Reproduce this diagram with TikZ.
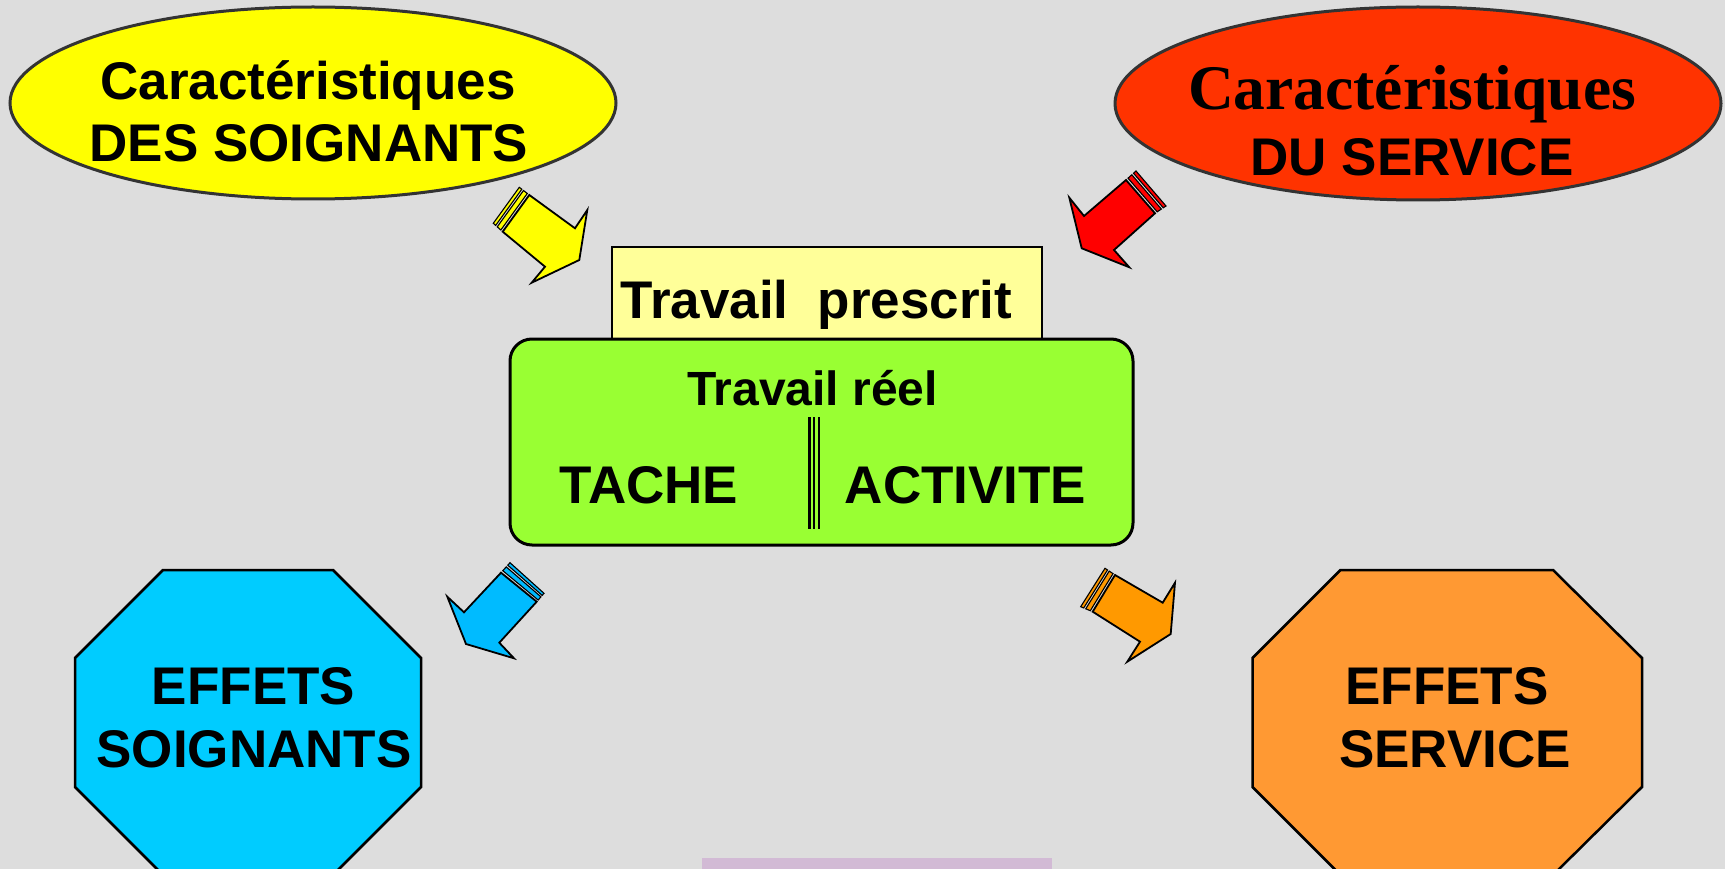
\documentclass[tikz,border=0pt]{standalone}
\usepackage{fontspec}
\setmainfont{Liberation Sans}
\newfontfamily\timesbf{Liberation Serif}
\usepackage{tikz}
\usetikzlibrary{shapes.geometric,calc}

\definecolor{bggray}{HTML}{DDDDDD}
\definecolor{ellgray}{HTML}{333333}
\definecolor{soignyel}{HTML}{FFFF00}
\definecolor{servred}{HTML}{FF3300}
\definecolor{prescyel}{HTML}{FFFF99}
\definecolor{reelgreen}{HTML}{99FF33}
\definecolor{effcyan}{HTML}{00CCFF}
\definecolor{effor}{HTML}{FF9933}
\definecolor{arrred}{HTML}{FF0000}
\definecolor{arrblue}{HTML}{00BBFF}
\definecolor{arror}{HTML}{FF9900}
\definecolor{lilac}{HTML}{D2BAD5}

\tikzset{
	cara/.style={ellipse, draw=ellgray, line width=3pt, minimum width=606pt, minimum height=192pt},
	bigtxt/.style={font=\fontsize{53}{64}\selectfont\bfseries, inner sep=0pt, anchor=base},
	octo/.style={draw, line width=2.5pt},
	barr/.style={draw, line width=1.8pt, line join=miter},
	stripe/.style={draw, line width=1.1pt, line join=miter}
}

% striped block arrow, uses coordinates #2t1 #2t2 #2s1 #2s2 #2n1 #2b1 #2tip #2b2 #2n2
\newcommand{\stripearrow}[2]{%
	\draw[stripe, fill=#1] ($(#2t1)!0.2!(#2s1)$) -- ($(#2t2)!0.2!(#2s2)$) -- ($(#2t2)!0.58!(#2s2)$) -- ($(#2t1)!0.58!(#2s1)$) -- cycle;
	\draw[stripe, fill=#1] ($(#2t1)!0.75!(#2s1)$) -- ($(#2t2)!0.75!(#2s2)$) -- (#2s2) -- (#2s1) -- cycle;
	\draw[barr, fill=#1] (#2t1) -- (#2n1) -- (#2b1) -- (#2tip) -- (#2b2) -- (#2n2) -- (#2t2) -- cycle;
}

\begin{document}
\begin{tikzpicture}[x=1pt, y=-1pt]
	\useasboundingbox (0,0) rectangle (1725,869);
	\clip (0,0) rectangle (1725,869);
	\fill[bggray] (0,0) rectangle (1725,869);

	% top ellipses
	\node[cara, fill=soignyel] (carsoign) at (313,103) {};
	\node[cara, fill=servred, minimum height=193pt] (carserv) at (1418,103.5) {};
	\node[bigtxt] (cs1) at (308,100) {Caractéristiques};
	\node[bigtxt] (cs2) at (309,162) {DES SOIGNANTS};
	\node[bigtxt, font=\fontsize{63.5}{70}\timesbf\bfseries] (cv1) at (1412,110) {Caractéristiques};
	\node[bigtxt] (cv2) at (1412,176) {DU SERVICE};

	% centre boxes
	\draw[line width=2pt, fill=prescyel] (612,247) rectangle (1042,339);
	\draw[line width=3pt, fill=reelgreen, rounded corners=22pt] (510,339) rectangle (1133,545);
	\node[bigtxt] (presc) at (816.5,319) {Travail\ \ prescrit};
	\node[bigtxt, font=\fontsize{48}{56}\selectfont\bfseries] (reel) at (812.5,405) {Travail réel};
	\node[bigtxt] (tache) at (649,503) {TACHE};
	\node[bigtxt] (activ) at (965.5,503) {ACTIVITE};
	\foreach \x in {809.5,814,819}
		\draw[line width=2.3pt] (\x,417) -- (\x,529);

	% bottom octagons
	\draw[octo, fill=effcyan] (75,658) -- (163,570) -- (333,570) -- (421,658) -- (421,787) -- (333,875) -- (163,875) -- (75,787) -- cycle;
	\draw[octo, fill=effor] (1252.5,658) -- (1340.5,570) -- (1553,570) -- (1642,658) -- (1642,787) -- (1553,875) -- (1340.5,875) -- (1252.5,787) -- cycle;
	\node[bigtxt] (es1) at (253.5,704) {EFFETS};
	\node[bigtxt] (es2) at (254,767) {SOIGNANTS};
	\node[bigtxt] (ev1) at (1447,704) {EFFETS};
	\node[bigtxt] (ev2) at (1455,767) {SERVICE};

	\fill[lilac] (702,858) rectangle (1052,875);

	% arrows
	\coordinate (yat1) at (529.3,195);   \coordinate (yat2) at (502.7,231.7);
	\coordinate (yas1) at (519.3,187.3); \coordinate (yas2) at (493.3,223.3);
	\coordinate (yan1) at (575,228.3);   \coordinate (yab1) at (587.3,210);
	\coordinate (yatip) at (579.3,260);  \coordinate (yab2) at (531.7,282.7);
	\coordinate (yan2) at (545,266.7);
	\stripearrow{soignyel}{ya}

	\coordinate (rat1) at (1126,180);    \coordinate (rat2) at (1155,213.3);
	\coordinate (ras1) at (1136,171);    \coordinate (ras2) at (1166,206);
	\coordinate (ran1) at (1084,216);    \coordinate (rab1) at (1069.3,197.7);
	\coordinate (ratip) at (1081.7,248.3); \coordinate (rab2) at (1129.3,267.3);
	\coordinate (ran2) at (1114,250);
	\stripearrow{arrred}{ra}

	\coordinate (cat1) at (501,572.7);   \coordinate (cat2) at (536.7,601.7);
	\coordinate (cas1) at (510,562.7);   \coordinate (cas2) at (544,593.3);
	\coordinate (can1) at (464,612.3);   \coordinate (cab1) at (447.3,596.7);
	\coordinate (catip) at (466,644);    \coordinate (cab2) at (514,658.3);
	\coordinate (can2) at (499.3,642.7);
	\stripearrow{arrblue}{ca}

	\coordinate (oat1) at (1115,575);    \coordinate (oat2) at (1092.7,611.7);
	\coordinate (oas1) at (1105,568.3);  \coordinate (oas2) at (1080.7,606.7);
	\coordinate (oan1) at (1162.7,602.7); \coordinate (oab1) at (1175,582.7);
	\coordinate (oatip) at (1170.7,634); \coordinate (oab2) at (1127.3,661.7);
	\coordinate (oan2) at (1140,641.7);
	\stripearrow{arror}{oa}
\end{tikzpicture}
\end{document}
